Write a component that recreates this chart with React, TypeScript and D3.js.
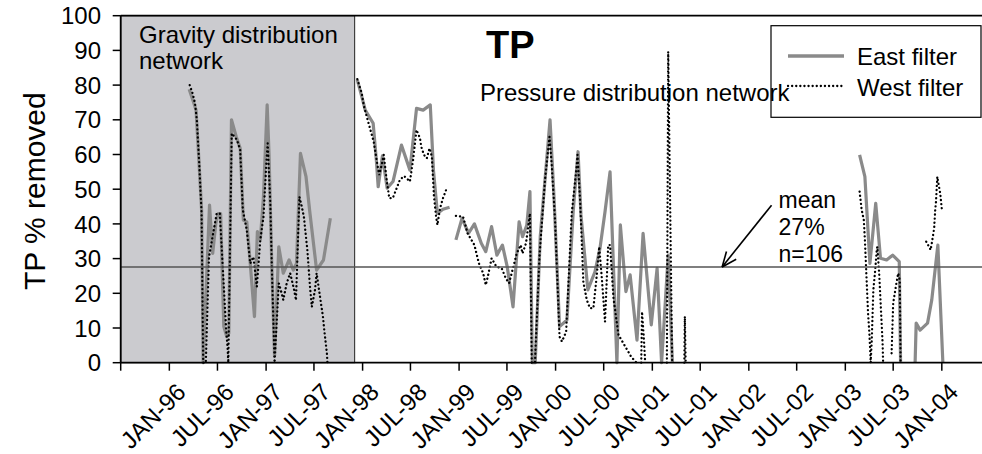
import React from "react";
import * as d3 from "d3";

type Pt = [string, number];

// axis setup
const axisStart = "1995-07-01";
const axisEnd = "2004-06-01";
const firstLabel = "1996-01-01";
const yTicks = [0, 10, 20, 30, 40, 50, 60, 70, 80, 90, 100];

// gravity network period (shaded)
const gravityEnd = "1997-12-02";

const meanValue = 27.6;
const meanLines = ["mean", "27%", "n=106"];
const arrowTail: Pt = ["2002-03-28", 45.4];
const arrowTip: Pt = ["2001-09-22", meanValue];

// East filter, split where the line breaks
const eastGravity: Pt[] = [
  ["1996-03-16", 78.8], ["1996-04-01", 75.2], ["1996-04-11", 72.8], ["1996-04-19", 62.2],
  ["1996-05-02", 44], ["1996-05-08", 0], ["1996-06-01", 45.4], ["1996-06-13", 31.5],
  ["1996-06-25", 40.2], ["1996-07-04", 43], ["1996-07-13", 43], ["1996-07-25", 10.4],
  ["1996-08-05", 7.5], ["1996-08-13", 8.5], ["1996-08-23", 70], ["1996-09-10", 65.1],
  ["1996-09-25", 61.8], ["1996-10-07", 41.1], ["1996-10-20", 40.6], ["1996-11-02", 28.6],
  ["1996-11-18", 13.3], ["1996-11-29", 37.8], ["1996-12-10", 35.4], ["1996-12-22", 47.8],
  ["1997-01-05", 74.3], ["1997-01-12", 60.3], ["1997-01-23", 26.7], ["1997-02-02", 2],
  ["1997-02-18", 33.4], ["1997-03-07", 25.8], ["1997-03-29", 29.6], ["1997-04-14", 26.7],
  ["1997-04-26", 28.6], ["1997-05-11", 60.3], ["1997-06-01", 53.6], ["1997-06-16", 43],
  ["1997-07-11", 26.7], ["1997-08-06", 29.6], ["1997-09-01", 41.6],
];
const eastPressure1: Pt[] = [
  ["1997-12-12", 81.5], ["1997-12-29", 76.7], ["1998-01-11", 72.8], ["1998-02-10", 69],
  ["1998-02-22", 58.4], ["1998-03-01", 50.7], ["1998-03-17", 59.6], ["1998-04-04", 50.3],
  ["1998-04-26", 52.2], ["1998-05-28", 62.7], ["1998-06-29", 55.5], ["1998-07-24", 73.3],
  ["1998-08-18", 72.8], ["1998-09-14", 74.3], ["1998-09-26", 55.5], ["1998-10-11", 43],
  ["1998-11-01", 44.2], ["1998-11-26", 44.8],
];
const eastPressure2: Pt[] = [
  ["1998-12-20", 35.4], ["1999-01-12", 41.6], ["1999-02-06", 37.3], ["1999-02-28", 40],
  ["1999-03-26", 34.4], ["1999-04-12", 32], ["1999-05-04", 39.2], ["1999-05-24", 31],
  ["1999-06-14", 33.9], ["1999-07-02", 27.7], ["1999-07-24", 16.1], ["1999-08-16", 40.6],
  ["1999-08-29", 36.3], ["1999-09-14", 39.6], ["1999-09-26", 49.3], ["1999-10-05", 0],
  ["1999-10-16", 0], ["1999-11-04", 36.3], ["1999-11-22", 52.7], ["1999-12-11", 70],
  ["1999-12-26", 47.8], ["2000-01-16", 10.4], ["2000-02-13", 12.3], ["2000-03-08", 44],
  ["2000-03-26", 60.8], ["2000-04-06", 42.6], ["2000-05-02", 21], ["2000-05-29", 26.2],
  ["2000-06-17", 33], ["2000-07-06", 43.5], ["2000-07-25", 55], ["2000-08-20", 0],
  ["2000-09-02", 39.7], ["2000-09-23", 20.5], ["2000-10-09", 25.3], ["2000-11-04", 6.5],
  ["2000-11-27", 37.3], ["2000-12-28", 10.9], ["2001-01-19", 27.2], ["2001-02-05", 0],
  ["2001-03-02", 31], ["2001-03-18", 0],
];
const east2003a: Pt[] = [
  ["2003-02-24", 59.9], ["2003-03-16", 53.6], ["2003-04-04", 28.6], ["2003-04-26", 45.9],
  ["2003-05-14", 30.1], ["2003-06-06", 29.6], ["2003-06-29", 31], ["2003-07-24", 29.1],
  ["2003-07-29", 0],
];
const east2003b: Pt[] = [
  ["2003-09-22", 0], ["2003-09-26", 11.4], ["2003-10-11", 9.4], ["2003-11-08", 11.4],
  ["2003-11-24", 18.1], ["2003-12-17", 33.9], ["2004-01-05", 0],
];

// West filter
const westGravity: Pt[] = [
  ["1996-03-18", 80], ["1996-03-29", 77.6], ["1996-04-07", 74.8], ["1996-04-14", 70],
  ["1996-04-23", 57.5], ["1996-05-02", 43], ["1996-05-08", 0], ["1996-05-18", 0],
  ["1996-05-30", 30.5], ["1996-06-28", 43], ["1996-07-10", 43], ["1996-08-03", 9.4],
  ["1996-08-08", 4.6], ["1996-08-11", 0], ["1996-08-24", 66.1], ["1996-09-13", 64.2],
  ["1996-09-25", 61.3], ["1996-10-05", 44], ["1996-10-20", 38.2], ["1996-11-02", 28.6],
  ["1996-11-14", 30.5], ["1996-11-27", 21.9], ["1996-12-10", 35.4], ["1996-12-22", 42],
  ["1997-01-02", 57.5], ["1997-01-07", 63.2], ["1997-01-17", 45.9], ["1997-01-23", 26.7],
  ["1997-02-02", 0], ["1997-02-18", 22.9], ["1997-03-01", 20], ["1997-03-07", 18.1],
  ["1997-03-20", 22.9], ["1997-04-02", 25.8], ["1997-04-17", 21], ["1997-04-24", 18],
  ["1997-05-07", 47.8], ["1997-05-16", 45], ["1997-05-24", 42], ["1997-06-06", 32.5],
  ["1997-06-16", 21.9], ["1997-06-23", 16.1], ["1997-07-05", 21], ["1997-07-11", 25.8],
  ["1997-07-24", 19], ["1997-08-04", 13.3], ["1997-08-09", 9.4], ["1997-08-19", 2.7],
  ["1997-08-21", 0],
];
const westPressure1: Pt[] = [
  ["1997-12-12", 81.7], ["1997-12-29", 77.6], ["1998-01-05", 74.3], ["1998-01-15", 71.4],
  ["1998-02-12", 63.7], ["1998-02-25", 57.5], ["1998-03-05", 54.1], ["1998-03-14", 57],
  ["1998-03-22", 59.9], ["1998-04-02", 52.7], ["1998-04-12", 47.4], ["1998-04-25", 47.4],
  ["1998-05-10", 50.3], ["1998-05-22", 52.7], ["1998-06-07", 53.8], ["1998-06-29", 52.2],
  ["1998-07-11", 58.4], ["1998-07-24", 67.1], ["1998-08-06", 64.7], ["1998-08-11", 62.2],
  ["1998-08-21", 59.9], ["1998-09-01", 58.9], ["1998-09-11", 61.8], ["1998-09-20", 59.4],
  ["1998-09-28", 47.8], ["1998-10-06", 42.1], ["1998-10-11", 39.7], ["1998-10-21", 44.5],
  ["1998-11-01", 47.4], ["1998-11-13", 49.8],
];
const westPressure2: Pt[] = [
  ["1998-12-20", 42.3], ["1999-01-16", 42.1], ["1999-02-02", 37.3], ["1999-02-28", 33.9],
  ["1999-03-17", 28.6], ["1999-04-02", 25.8], ["1999-04-12", 22.4], ["1999-04-21", 25.3],
  ["1999-05-04", 30.1], ["1999-05-22", 27.7], ["1999-06-11", 27.2], ["1999-06-27", 24.3],
  ["1999-07-09", 22.9], ["1999-07-22", 26.7], ["1999-08-07", 31.5], ["1999-08-22", 33.9],
  ["1999-08-29", 31.5], ["1999-09-11", 34.4], ["1999-09-26", 43], ["1999-10-03", 0],
  ["1999-10-15", 0], ["1999-11-01", 30.5], ["1999-11-22", 52.7], ["1999-12-09", 65.1],
  ["1999-12-17", 57.5], ["1999-12-30", 41.1], ["2000-01-16", 7.5], ["2000-01-25", 6.1],
  ["2000-02-10", 8.9], ["2000-03-02", 43], ["2000-03-20", 56], ["2000-03-24", 59.9],
  ["2000-04-03", 46.4], ["2000-04-15", 23.3], ["2000-04-28", 18.1], ["2000-05-10", 15.7],
  ["2000-05-23", 15.7], ["2000-06-05", 25.3], ["2000-06-14", 33.4], ["2000-06-24", 24.3],
  ["2000-07-06", 11.8], ["2000-07-18", 33.9], ["2000-07-25", 33.9], ["2000-08-07", 18.6],
  ["2000-08-26", 8], ["2000-09-21", 4.6], ["2000-10-13", 1.7], ["2000-11-02", 0],
];
const westPressure3: Pt[] = [
  ["2000-11-20", 0], ["2000-11-23", 14.7], ["2000-11-29", 8], ["2000-12-05", 0],
];
const westSpike: Pt[] = [["2001-02-25", 0], ["2001-03-02", 89.6], ["2001-03-17", 0]];
const westSmall: Pt[] = [["2001-05-02", 0], ["2001-05-04", 13.3], ["2001-05-07", 0]];
const west2003a: Pt[] = [
  ["2003-02-24", 49.3], ["2003-03-04", 44], ["2003-03-12", 41.1], ["2003-03-16", 35.4],
  ["2003-03-22", 24.8], ["2003-03-28", 14.2], ["2003-04-02", 8.5], ["2003-04-07", 0],
  ["2003-04-11", 6.5], ["2003-04-17", 21], ["2003-04-23", 25.8], ["2003-04-30", 32.5],
  ["2003-05-02", 33.4], ["2003-05-09", 25.8], ["2003-05-14", 18.1], ["2003-05-22", 5.6],
  ["2003-05-24", 0],
];
const west2003b: Pt[] = [
  ["2003-06-25", 2.7], ["2003-07-01", 17.1], ["2003-07-11", 21.9], ["2003-07-20", 25.8],
  ["2003-07-26", 23.8], ["2003-07-29", 0],
];
const west2003c: Pt[] = [
  ["2003-11-03", 34.9], ["2003-11-20", 32.5], ["2003-11-28", 36.3], ["2003-12-03", 38.7],
  ["2003-12-07", 44], ["2003-12-10", 46.4], ["2003-12-15", 53.6], ["2003-12-19", 51.7],
  ["2003-12-26", 48.8], ["2004-01-02", 43.5],
];

const eastSegments = [eastGravity, eastPressure1, eastPressure2, east2003a, east2003b];
const westSegments = [
  westGravity, westPressure1, westPressure2, westPressure3,
  westSpike, westSmall, west2003a, west2003b, west2003c,
];

const W = 982;
const H = 454;
const margin = { left: 120.7, right: 0, top: 15.7, bottom: 91.3 };
const FONT = "'Liberation Sans', Arial, sans-serif";
const EAST_COLOR = "#8a8a8a";
const DOT = "0.1 4";

const parse = d3.timeParse("%Y-%m-%d");
const pd = (s: string) => parse(s) as Date;

export default function App() {
  const x = d3.scaleTime()
    .domain([pd(axisStart), pd(axisEnd)])
    .range([margin.left, W - margin.right]);
  const y = d3.scaleLinear().domain([0, 100]).range([H - margin.bottom, margin.top]);
  const y0 = y(0);

  const line = d3.line<Pt>()
    .x(d => x(pd(d[0])))
    .y(d => y(d[1]));

  const xTicks = x.ticks(d3.timeMonth.every(6)!);
  const fmt = d3.timeFormat("%b-%y");

  const tail = [x(pd(arrowTail[0])), y(arrowTail[1])];
  const tip = [x(pd(arrowTip[0])), y(arrowTip[1])];
  const ang = Math.atan2(tail[1] - tip[1], tail[0] - tip[0]);
  const head = 16;
  const spread = 0.4;

  return (
    <svg width={W} height={H} style={{ position: "absolute", left: 0, top: 0, background: "#fff" }}
      fontFamily={FONT}>
      {/* gravity period shading */}
      <rect x={x(pd(axisStart))} y={y(100)} width={x(pd(gravityEnd)) - x(pd(axisStart))}
        height={y0 - y(100)} fill="#cbcbcf" stroke="#222" strokeWidth={1} />

      {/* series */}
      {eastSegments.map((s, i) => (
        <path key={"e" + i} d={line(s) || ""} fill="none" stroke={EAST_COLOR}
          strokeWidth={3.2} strokeLinejoin="round" />
      ))}
      {westSegments.map((s, i) => (
        <path key={"w" + i} d={line(s) || ""} fill="none" stroke="#000"
          strokeWidth={2.3} strokeDasharray={DOT} strokeLinecap="round" />
      ))}

      {/* mean line */}
      <line x1={margin.left} x2={W} y1={y(meanValue)} y2={y(meanValue)} stroke="#555" strokeWidth={1.6} />

      {/* plot border top + axes */}
      <line x1={margin.left} x2={W} y1={y(100)} y2={y(100)} stroke="#000" strokeWidth={1.8} />
      <line x1={margin.left} x2={margin.left} y1={y(100)} y2={y0} stroke="#000" strokeWidth={1.8} />
      <line x1={margin.left} x2={W} y1={y0} y2={y0} stroke="#000" strokeWidth={1.8} />

      {yTicks.map(t => (
        <g key={"yt" + t}>
          <line x1={margin.left - 8} x2={margin.left} y1={y(t)} y2={y(t)} stroke="#000" strokeWidth={1.5} />
          <text x={101} y={y(t)} dy="0.36em" textAnchor="end" fontSize={24}>{t}</text>
        </g>
      ))}
      <text transform={`translate(45,${(y(0) + y(100)) / 2 + 2}) rotate(-90)`} textAnchor="middle"
        fontSize={30}>TP % removed</text>

      {xTicks.map((t, i) => (
        <g key={"xt" + i}>
          <line x1={x(t)} x2={x(t)} y1={y0} y2={y0 + 8} stroke="#000" strokeWidth={1.5} />
          {t >= pd(firstLabel) && (
            <text transform={`translate(${x(t) + 12},${y0 + 25}) rotate(-45)`} textAnchor="end"
              dy="0.35em" fontSize={24}>{fmt(t).toUpperCase()}</text>
          )}
        </g>
      ))}

      {/* annotations */}
      <text x={139} y={43} fontSize={24}>Gravity distribution</text>
      <text x={139} y={69} fontSize={24}>network</text>
      <text x={486} y={58} fontSize={38} fontWeight="bold">TP</text>

      {/* legend */}
      <rect x={771} y={25.7} width={210} height={91.6} fill="#fff" stroke="#000" strokeWidth={1.2} />
      <line x1={788} x2={844} y1={56} y2={56} stroke={EAST_COLOR} strokeWidth={3.5} />
      <text x={857} y={65} fontSize={24}>East filter</text>
      <line x1={788} x2={844} y1={86} y2={86} stroke="#000" strokeWidth={2.3}
        strokeDasharray={DOT} strokeLinecap="round" />
      <text x={857} y={95.5} fontSize={24}>West filter</text>

      <text x={480} y={101} fontSize={24}>Pressure distribution network</text>

      {/* mean arrow */}
      <line x1={tail[0]} y1={tail[1]} x2={tip[0]} y2={tip[1]} stroke="#000" strokeWidth={1.6} />
      <line x1={tip[0]} y1={tip[1]} x2={tip[0] + head * Math.cos(ang + spread)}
        y2={tip[1] + head * Math.sin(ang + spread)} stroke="#000" strokeWidth={1.6} />
      <line x1={tip[0]} y1={tip[1]} x2={tip[0] + head * Math.cos(ang - spread)}
        y2={tip[1] + head * Math.sin(ang - spread)} stroke="#000" strokeWidth={1.6} />
      {meanLines.map((s, i) => (
        <text key={s} x={tail[0] + 7} y={tail[1] + 3 + i * 27} fontSize={23}>{s}</text>
      ))}
    </svg>
  );
}
